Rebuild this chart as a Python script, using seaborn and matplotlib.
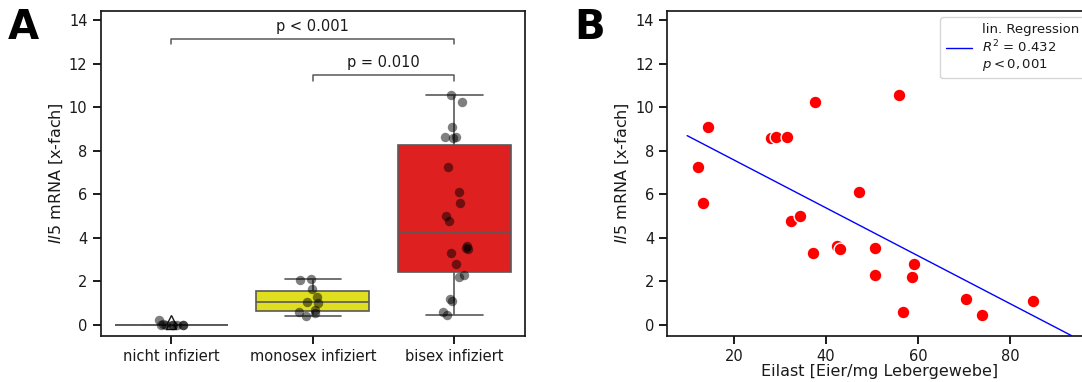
import numpy as np
import pandas as pd
import matplotlib
matplotlib.use("Agg")
import matplotlib.pyplot as plt
import seaborn as sns

# ---------------- data ----------------
groups = ["nicht infiziert", "monosex infiziert", "bisex infiziert"]
il5_nicht = [0.0, 0.0, 0.0, 0.0, 0.0, 0.0, 0.0, 0.02, 0.2]
il5_mono = [2.10, 2.07, 1.64, 1.27, 1.06, 1.00, 0.69, 0.60, 0.52, 0.41]
# bisex animals: egg load (x) and Il5 (y), paired
eilast = [14.4, 12.3, 13.3, 28.0, 29.2, 31.5, 37.6, 32.4, 34.3, 37.1, 42.3,
          43.1, 47.1, 50.7, 50.7, 55.9, 56.8, 58.7, 59.2, 70.5, 73.8, 84.9]
il5_bisex = [9.08, 7.23, 5.58, 8.60, 8.63, 8.64, 10.25, 4.78, 5.00, 3.28, 3.62,
             3.46, 6.11, 3.52, 2.28, 10.54, 0.57, 2.19, 2.80, 1.19, 0.43, 1.10]
box_colors = ["white", "yellow", "red"]
p_labels = ["p < 0.001", "p = 0.010"]
reg_label = "lin. Regression\n$R^2$ = 0.432\n$p<0,001$"

df = pd.DataFrame({
    "group": [groups[0]] * len(il5_nicht) + [groups[1]] * len(il5_mono) + [groups[2]] * len(il5_bisex),
    "value": il5_nicht + il5_mono + il5_bisex,
})

# ---------------- style ----------------
sns.set_style("ticks")
plt.rcParams["font.family"] = ["DejaVu Sans"]
plt.rcParams["mathtext.fontset"] = "dejavusans"
plt.rcParams["axes.linewidth"] = 1.25
for ax_ in ("xtick", "ytick"):
    plt.rcParams[f"{ax_}.major.width"] = 1.4
    plt.rcParams[f"{ax_}.major.size"] = 6
    plt.rcParams[f"{ax_}.labelsize"] = 10.5
plt.rcParams["axes.labelsize"] = 11.5
plt.rcParams["text.color"] = "0.1"
plt.rcParams["axes.labelcolor"] = "0.1"
plt.rcParams["xtick.color"] = "0.1"
plt.rcParams["ytick.color"] = "0.1"
plt.rcParams["axes.edgecolor"] = "0.1"

fig = plt.figure(figsize=(10.82, 3.82), dpi=100)
ax1 = fig.add_axes([100.7 / 1082, 46 / 382, 424.3 / 1082, 325.3 / 382])
ax2 = fig.add_axes([667.3 / 1082, 46 / 382, 424.3 / 1082, 325.3 / 382])

ylabel = r"$\it{Il5}$ mRNA [x-fach]"
ylim = (-0.52, 14.43)

# ---------------- panel A ----------------
sns.boxplot(data=df, x="group", y="value", hue="group", order=groups,
            palette=box_colors, legend=False, width=0.8, linecolor="0.35",
            linewidth=1.2, ax=ax1,
            flierprops=dict(marker="^", markerfacecolor="white",
                            markeredgecolor="0.1", markersize=7))
np.random.seed(3)
sns.stripplot(data=df, x="group", y="value", order=groups, color="black",
              alpha=0.5, size=6.8, jitter=0.1, ax=ax1)
ax1.set_ylim(*ylim)
ax1.set_xlim(-0.5, 2.5)
ax1.set_yticks(np.arange(0, 15, 2))
ax1.set_xlabel("")
ax1.set_ylabel(ylabel, labelpad=3)

def bracket(ax, x0, x1, y, h, text):
    ax.plot([x0, x0, x1, x1], [y - h, y, y, y - h], color="0.35", lw=1.1)
    ax.text((x0 + x1) / 2, y + 0.25, text, ha="center", va="bottom", fontsize=10.5)

bracket(ax1, 0, 2, 13.13, 0.25, p_labels[0])
bracket(ax1, 1, 2, 11.46, 0.25, p_labels[1])

# ---------------- panel B ----------------
sns.scatterplot(x=eilast, y=il5_bisex, color="red", s=85, edgecolor="white",
                linewidth=1, ax=ax2, zorder=3)
slope, intercept = np.polyfit(eilast, il5_bisex, 1)
xline = np.linspace(min(eilast) * 0.8, max(eilast) * 1.1, 100)
sns.lineplot(x=xline, y=slope * xline + intercept, color="blue", lw=1,
             label=reg_label, ax=ax2)
ax2.set_ylim(*ylim)
ax2.set_xlim(5.53, 97.7)
ax2.set_yticks(np.arange(0, 15, 2))
ax2.set_xticks([20, 40, 60, 80])
ax2.set_xlabel("Eilast [Eier/mg Lebergewebe]", labelpad=0)
ax2.set_ylabel(ylabel, labelpad=3)
ax2.legend(loc="upper right", fontsize=9.5, frameon=True, edgecolor="0.8",
           handlelength=2.0, borderaxespad=0.5)

fig.text(8 / 1082, 1 - 8 / 382, "A", fontsize=29, fontweight="bold", va="top", ha="left", color="black")
fig.text(574 / 1082, 1 - 8 / 382, "B", fontsize=29, fontweight="bold", va="top", ha="left", color="black")

fig.savefig("out.png", dpi=100)
